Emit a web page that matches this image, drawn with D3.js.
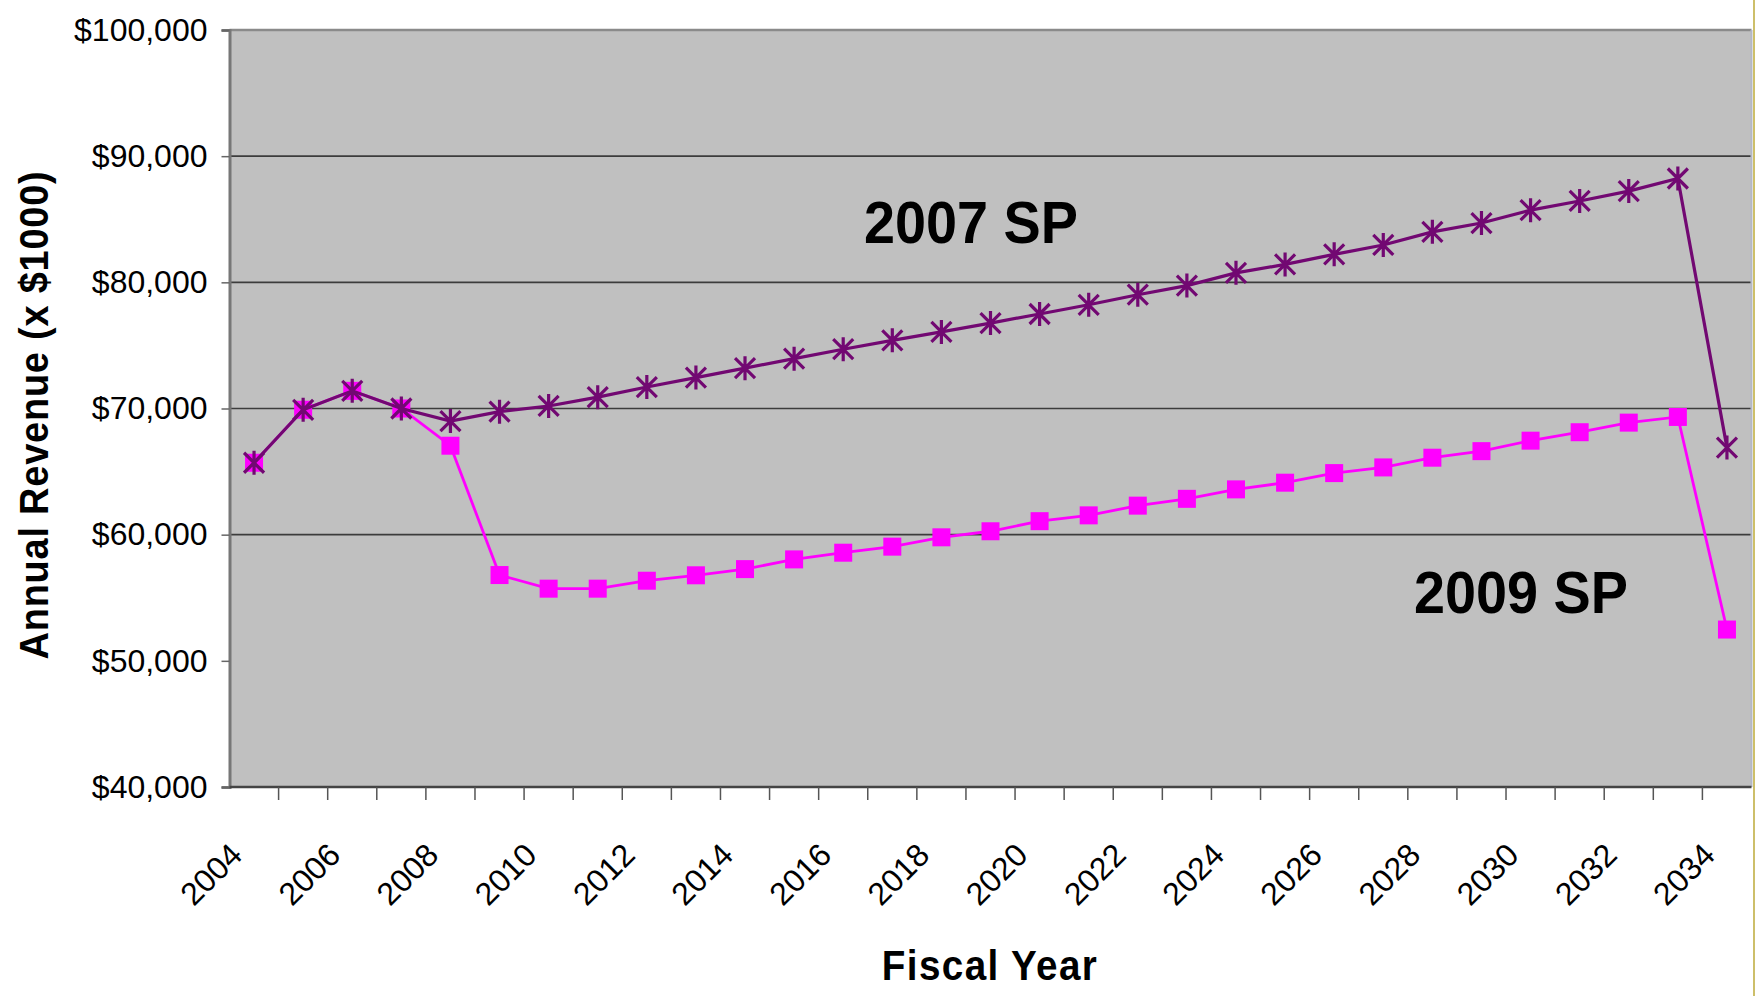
<!DOCTYPE html>
<html>
<head>
<meta charset="utf-8">
<script src="https://cdn.jsdelivr.net/npm/d3@7"></script>
<style>
  html, body { margin: 0; padding: 0; background: #fff; }
  svg { display: block; }
  text { font-family: "Liberation Sans", Arial, Helvetica, sans-serif; }
</style>
</head>
<body>
<svg id="chart" width="1755" height="996"></svg>
<script>
// Fiscal years on the category axis
const years = d3.range(2004, 2035);
// Every other year is labelled
const yearLabels = years.filter(y => (y - 2004) % 2 === 0);

// Annual revenue, thousands of dollars — 2007 Strategic Plan projection
const sp2007 = [
  65700, 69900, 71400, 70000, 69000, 69750, 70200, 70900, 71700, 72450,
  73200, 73950, 74700, 75400, 76070, 76770, 77490, 78220, 79020, 79740,
  80750, 81420, 82220, 82960, 84000, 84700, 85720, 86450, 87230, 88230,
  66900
];
// Annual revenue, thousands of dollars — 2009 Strategic Plan projection
const sp2009 = [
  65700, 69900, 71400, 70000, 67050, 56800, 55720, 55720, 56350, 56780,
  57270, 58040, 58570, 59050, 59790, 60270, 61070, 61530, 62300, 62840,
  63590, 64120, 64880, 65330, 66100, 66620, 67450, 68120, 68880, 69330,
  52480
];

const yTicks = [40000, 50000, 60000, 70000, 80000, 90000, 100000];
const gridValues = [60000, 70000, 80000, 90000];

const svg = d3.select("#chart");
const plot = { left: 229.5, right: 1751.5, top: 30, bottom: 787 };

const x = d3.scaleBand().domain(years).range([plot.left, plot.right]).padding(0);
const y = d3.scaleLinear().domain([40000, 100000]).range([plot.bottom, plot.top]);
const cx = d => x(d) + x.bandwidth() / 2;

// Plot area
svg.append("rect")
  .attr("x", plot.left).attr("y", plot.top)
  .attr("width", plot.right - plot.left).attr("height", plot.bottom - plot.top)
  .attr("fill", "#c0c0c0");

// Horizontal gridlines
svg.append("g").selectAll("line").data(gridValues).join("line")
  .attr("x1", plot.left).attr("x2", plot.right)
  .attr("y1", d => y(d)).attr("y2", d => y(d))
  .attr("stroke", "#3c3c3c").attr("stroke-width", 1.6);

// Top border of the plot area
svg.append("line")
  .attr("x1", plot.left).attr("x2", plot.right)
  .attr("y1", y(100000)).attr("y2", y(100000))
  .attr("stroke", "#8a8a8a").attr("stroke-width", 2.5);

// Right border of the plot area
svg.append("line")
  .attr("x1", plot.right).attr("x2", plot.right)
  .attr("y1", plot.top).attr("y2", plot.bottom)
  .attr("stroke", "#b4b8c6").attr("stroke-width", 2);
svg.append("line")
  .attr("x1", 1754).attr("x2", 1754).attr("y1", 0).attr("y2", 996)
  .attr("stroke", "#cdbf6a").attr("stroke-width", 2);

// Y axis
const yAxis = d3.axisLeft(y)
  .tickValues(yTicks)
  .tickSize(8)
  .tickPadding(14)
  .tickFormat(d => "$" + d3.format(",")(d));
const gy = svg.append("g").attr("transform", `translate(${plot.left},0)`).call(yAxis);
gy.select(".domain").attr("stroke", "#777").attr("stroke-width", 3);
gy.selectAll(".tick line").attr("stroke", "#666").attr("stroke-width", 1.5);
gy.selectAll(".tick text")
  .attr("font-size", 32).attr("fill", "#000")
  .style("font-family", '"Liberation Sans", Arial, sans-serif');

// X axis: tick marks at category boundaries, labels on every other year
const gx = svg.append("g").attr("transform", `translate(0,${plot.bottom})`);
gx.append("line")
  .attr("x1", plot.left).attr("x2", plot.right)
  .attr("stroke", "#444").attr("stroke-width", 2.5);
gx.selectAll("line.tick").data(years.slice(1)).join("line")
  .attr("class", "tick")
  .attr("x1", d => x(d)).attr("x2", d => x(d))
  .attr("y1", 0).attr("y2", 13)
  .attr("stroke", "#555").attr("stroke-width", 1.5);
gx.selectAll("text").data(yearLabels).join("text")
  .attr("transform", d => `translate(${cx(d) - 10},70) rotate(-45)`)
  .attr("text-anchor", "end")
  .attr("font-size", 32)
  .attr("fill", "#000")
  .text(d => d);

// Series lines and markers
const line = d3.line().x((d, i) => cx(years[i])).y(d => y(d));

// 2009 SP: magenta line with square markers
svg.append("path").datum(sp2009)
  .attr("d", line).attr("fill", "none")
  .attr("stroke", "#ff00ff").attr("stroke-width", 2.8);
svg.append("g").selectAll("rect").data(sp2009).join("rect")
  .attr("x", (d, i) => cx(years[i]) - 9).attr("y", d => y(d) - 9)
  .attr("width", 18).attr("height", 18)
  .attr("fill", "#ff00ff");

// 2007 SP: purple line with asterisk markers
svg.append("path").datum(sp2007)
  .attr("d", line).attr("fill", "none")
  .attr("stroke", "#720872").attr("stroke-width", 3.2);
const star = "M-10,-10L10,10M-10,10L10,-10M0,-12L0,12";
svg.append("g").selectAll("path").data(sp2007).join("path")
  .attr("transform", (d, i) => `translate(${cx(years[i])},${y(d)})`)
  .attr("d", star)
  .attr("fill", "none")
  .attr("stroke", "#720872").attr("stroke-width", 3.2);

// Series labels
svg.append("text")
  .attr("transform", "translate(971,243) scale(0.93,1)")
  .attr("text-anchor", "middle")
  .attr("font-size", 60).attr("font-weight", "bold").attr("fill", "#000")
  .text("2007 SP");
svg.append("text")
  .attr("transform", "translate(1521,613) scale(0.93,1)")
  .attr("text-anchor", "middle")
  .attr("font-size", 60).attr("font-weight", "bold").attr("fill", "#000")
  .text("2009 SP");

// Axis titles
svg.append("text")
  .attr("transform", "translate(990,980) scale(0.92,1)")
  .attr("text-anchor", "middle")
  .attr("font-size", 42).attr("font-weight", "bold").attr("fill", "#000")
  .attr("letter-spacing", 1.5)
  .text("Fiscal Year");
svg.append("text")
  .attr("transform", "translate(48,415) rotate(-90) scale(0.95,1)")
  .attr("text-anchor", "middle")
  .attr("font-size", 40).attr("font-weight", "bold").attr("fill", "#000")
  .attr("letter-spacing", 0.8)
  .text("Annual Revenue (x $1000)");
</script>
</body>
</html>
